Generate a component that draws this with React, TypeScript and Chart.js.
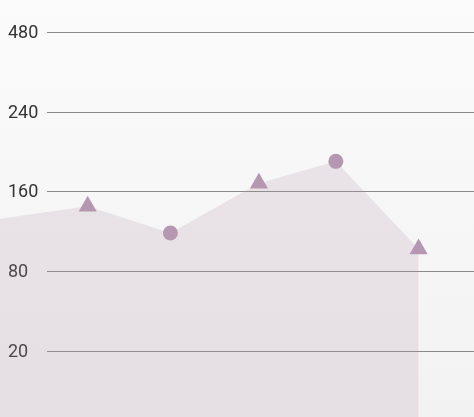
import React, { useEffect, useRef } from 'react';
import { Chart, LinearScale, registerables } from 'chart.js';

// y axis labels are evenly spaced, so the scale is piecewise linear between them
const yTicks = [20, 80, 160, 240, 480];

const xValues = [-0.5, 1, 2, 3.07, 4, 5];
const seriesValues = [127, 145, 118, 168, 190, 102];
const markerStyles = ['circle', 'triangle', 'circle', 'triangle', 'circle', 'triangle'];
const markerSizes = [0, 10.5, 7.5, 10.5, 7.5, 10.5];

const X_MIN = -0.06;
const X_MAX = 5.67;
const Y_MIN = -30;
const Y_MAX = 576;

const MARK = 'rgb(182, 151, 177)';

const toIndex = (v: number) => {
  const n = yTicks.length;
  if (v <= yTicks[0]) return (v - yTicks[0]) / (yTicks[1] - yTicks[0]);
  for (let i = 1; i < n; i++) {
    if (v <= yTicks[i]) return i - 1 + (v - yTicks[i - 1]) / (yTicks[i] - yTicks[i - 1]);
  }
  return n - 1 + (v - yTicks[n - 1]) / (yTicks[n - 1] - yTicks[n - 2]);
};

const fromIndex = (idx: number) => {
  const n = yTicks.length;
  if (idx <= 0) return yTicks[0] + idx * (yTicks[1] - yTicks[0]);
  if (idx >= n - 1) return yTicks[n - 1] + (idx - n + 1) * (yTicks[n - 1] - yTicks[n - 2]);
  const i = Math.floor(idx);
  return yTicks[i] + (idx - i) * (yTicks[i + 1] - yTicks[i]);
};

class StepScale extends LinearScale {
  static id = 'steps';
  static defaults = LinearScale.defaults;

  buildTicks() {
    return yTicks.map((value) => ({ value }));
  }

  getPixelForValue(value: number) {
    const lo = toIndex(this.min);
    const hi = toIndex(this.max);
    return this.getPixelForDecimal((toIndex(value) - lo) / (hi - lo));
  }

  getValueForPixel(pixel: number) {
    const lo = toIndex(this.min);
    const hi = toIndex(this.max);
    return fromIndex(lo + this.getDecimalForPixel(pixel) * (hi - lo));
  }
}

Chart.register(...registerables, StepScale);

// grid lines start right of the labels
const gridLines = {
  id: 'gridLines',
  beforeDatasetsDraw(chart: Chart) {
    const { ctx, chartArea } = chart;
    const y = chart.scales.y;
    ctx.save();
    ctx.strokeStyle = '#8a8a8a';
    ctx.lineWidth = 1.2;
    y.ticks.forEach((t) => {
      const py = Math.round(y.getPixelForValue(t.value)) + 0.5;
      ctx.beginPath();
      ctx.moveTo(chartArea.left + 47, py);
      ctx.lineTo(chartArea.right, py);
      ctx.stroke();
    });
    ctx.restore();
  },
};

const App: React.FC = () => {
  const chartRef = useRef<HTMLCanvasElement | null>(null);
  const chartInstance = useRef<Chart | null>(null);

  useEffect(() => {
    if (!chartRef.current) return;
    const ctx = chartRef.current.getContext('2d');
    if (!ctx) return;
    if (chartInstance.current) chartInstance.current.destroy();

    chartInstance.current = new Chart(ctx, {
      type: 'line',
      data: {
        datasets: [
          {
            data: xValues.map((x, i) => ({ x, y: seriesValues[i] })),
            fill: 'start',
            backgroundColor: 'rgba(182, 151, 177, 0.2)',
            borderColor: 'rgba(0,0,0,0)',
            borderWidth: 0,
            tension: 0,
            pointStyle: markerStyles as any,
            pointRadius: markerSizes,
            pointHoverRadius: markerSizes,
            pointBackgroundColor: MARK,
            pointBorderColor: MARK,
            pointBorderWidth: 0,
          },
        ],
      },
      options: {
        animation: false,
        responsive: true,
        maintainAspectRatio: false,
        layout: { padding: 0, autoPadding: false },
        scales: {
          x: {
            type: 'linear',
            display: false,
            min: X_MIN,
            max: X_MAX,
          },
          y: {
            type: 'steps' as any,
            position: 'left',
            min: Y_MIN,
            max: Y_MAX,
            grid: { display: false, drawTicks: false },
            border: { display: false },
            afterFit: (scale: any) => {
              scale.width = 0;
              scale.paddingTop = 0;
              scale.paddingBottom = 0;
            },
            ticks: {
              mirror: true,
              padding: 8,
              labelOffset: 1.5,
              color: '#333',
              font: { family: 'Roboto', size: 18 },
            },
          },
        },
        plugins: {
          legend: { display: false },
          tooltip: { enabled: false },
        },
      },
      plugins: [gridLines],
    });

    return () => {
      if (chartInstance.current) {
        chartInstance.current.destroy();
        chartInstance.current = null;
      }
    };
  }, []);

  return (
    <div
      style={{
        position: 'fixed',
        left: 0,
        top: 0,
        width: 474,
        height: 417,
        background: 'linear-gradient(#fbfbfb, #f2f2f2)',
      }}
    >
      <canvas ref={chartRef} />
    </div>
  );
};

export default App;
